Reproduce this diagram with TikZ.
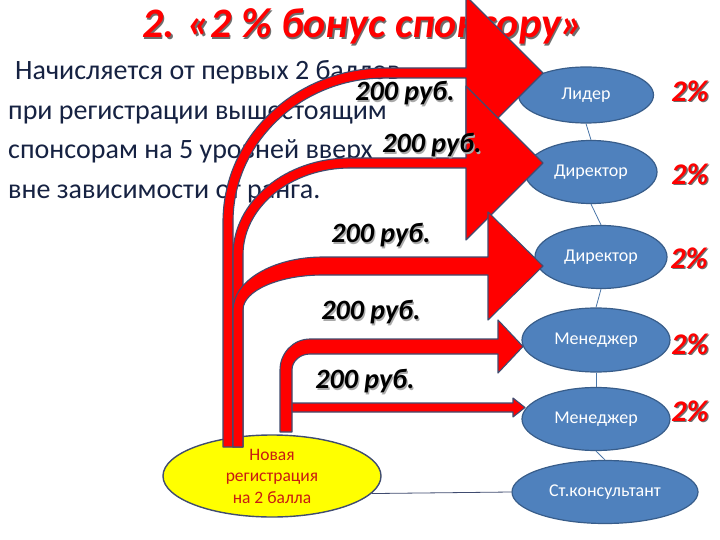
\documentclass[tikz,border=0pt]{standalone}
\usepackage{fontspec}
\setmainfont{Carlito}
\usepackage{tikz}
\usetikzlibrary{calc, shapes, positioning}
\tikzset{
    ellnode/.style = {draw=dblue, fill=rblue, ellipse, line width=1.2pt, inner sep = 0em,
      text=white, font=\fontsize{18}{20}\selectfont},
    yelnode/.style = {draw=slate, fill=ylw, ellipse, line width=1.4pt, inner sep = 0em,
      text=dred, align=center, font=\fontsize{17.5}{21.5}\selectfont},
    textnode/.style  = {draw=none, fill=none, rectangle, inner sep = 0em, anchor=base west,
      text=navy, font=\fontsize{28}{30}\selectfont},
    titlenode/.style = {draw=none, inner sep = 0em, anchor=base,
      font=\bfseries\itshape\fontsize{42}{44}\selectfont},
    sumnode/.style = {draw=none, inner sep = 0em, font=\bfseries\itshape\fontsize{28}{30}\selectfont},
    pctnode/.style = {draw=none, inner sep = 0em, font=\bfseries\itshape\fontsize{30}{32}\selectfont},
    barrow/.style = {fill=red, draw=slate, line width=1.1pt, line join=round},
    link/.style = {draw=lblue, line width=0.8pt}
}
\definecolor{rblue}{RGB}{79, 129, 189}
\definecolor{dblue}{RGB}{56, 93, 138}
\definecolor{lblue}{RGB}{74, 118, 168}
\definecolor{slate}{RGB}{64, 76, 112}
\definecolor{navy}{RGB}{22, 34, 66}
\definecolor{ylw}{RGB}{255, 255, 0}
\definecolor{dred}{RGB}{200, 28, 18}
\definecolor{shad}{RGB}{110, 110, 110}
\definecolor{lshad}{RGB}{170, 170, 170}
\newcommand{\shadtext}[3]{\rlap{\color{#2}\hspace{1.3pt}\raisebox{-1.3pt}{#3}}{\color{#1}#3}}

\begin{document}
\begin{tikzpicture}[x=1pt, y=-1pt]
    \useasboundingbox (0,0) rectangle (720,540);
    \fill[white] (0,0) rectangle (720,540);
    \clip (0,0) rectangle (720,540);

    \node [name=title, titlenode] at (363,38) {\shadtext{red}{shad}{2. «2 \% бонус спонсору»}};
    \node [name=rowa, textnode] at (15,80) {Начисляется от первых 2 баллов};
    \node [name=rowb, textnode] at (8,120) {при регистрации вышестоящим};
    \node [name=rowc, textnode] at (8,159) {спонсорам на 5 уровней вверх};
    \node [name=rowd, textnode] at (8,199) {вне зависимости от ранга.};

    \node [name=lider, ellnode, minimum width=135pt, minimum height=56pt] at (586,95) {Лидер};
    \node [name=dira, ellnode, minimum width=132pt, minimum height=63pt] at (591,172) {Директор};
    \node [name=dirb, ellnode, minimum width=132pt, minimum height=63pt] at (601,257) {Директор};
    \node [name=mana, ellnode, minimum width=148pt, minimum height=64pt] at (596,340) {Менеджер};
    \node [name=manb, ellnode, minimum width=148pt, minimum height=63pt] at (596,419) {Менеджер};
    \node [name=cons, ellnode, minimum width=186pt, minimum height=63pt] at (605,492) {Ст.консультант};
    \node [name=newreg, yelnode, minimum width=218pt, minimum height=82pt] at (272,476)
        {Новая\\регистрация\\на 2 балла};

    \draw [link] (lider.south) -- (dira.north);
    \draw [link] (dira.south) -- (dirb.north);
    \draw [link] (dirb.south) -- (mana.north);
    \draw [link] (mana.south) -- (manb.north);
    \draw [link] (manb.south) -- (cons.north);
    \draw [link, draw=slate] (newreg.-10) -- (cons.west);

    \draw [barrow] (223,447) -- (223,222) arc[start angle=180, end angle=90, x radius=162pt, y radius=154pt]
        -- (466,68) -- (466,-4) -- (543,73) -- (466,150) -- (466,78) -- (385,78)
        arc[start angle=90, end angle=180, x radius=152pt, y radius=144pt] -- (233,447) -- cycle;
    \draw [barrow] (233,447) -- (233,255) arc[start angle=180, end angle=90, x radius=117pt, y radius=97pt]
        -- (466,158) -- (466,86) -- (543,163) -- (466,240) -- (466,168) -- (350,168)
        arc[start angle=90, end angle=180, x radius=107pt, y radius=87pt] -- (243,447) -- cycle;
    \draw [barrow] (233,447) -- (233,310) arc[start angle=180, end angle=90, x radius=90pt, y radius=53pt]
        -- (488,257) -- (488,212) -- (543,266) -- (488,320) -- (488,275) -- (323,275)
        arc[start angle=90, end angle=180, x radius=80pt, y radius=35pt] -- (243,447) -- cycle;
    \draw [barrow] (288,403) -- (513,403) -- (513,398) -- (525,407.5) -- (513,417) -- (513,412)
        -- (288,412) -- cycle;
    \draw [barrow] (280,432) -- (280,370) arc[start angle=180, end angle=90, x radius=30pt, y radius=31pt]
        -- (498,339) -- (498,320) -- (523,346.5) -- (498,373) -- (498,354) -- (310,354)
        arc[start angle=90, end angle=180, x radius=18pt, y radius=16pt] -- (292,432) -- cycle;

    \node [name=suma, sumnode] at (405,94) {\shadtext{black}{lshad}{200 руб.}};
    \node [name=sumb, sumnode] at (432,146) {\shadtext{black}{lshad}{200 руб.}};
    \node [name=sumc, sumnode] at (381,236) {\shadtext{black}{lshad}{200 руб.}};
    \node [name=sumd, sumnode] at (371,313) {\shadtext{black}{lshad}{200 руб.}};
    \node [name=sume, sumnode] at (365,382) {\shadtext{black}{lshad}{200 руб.}};

    \node [name=pcta, pctnode] at (690,92) {\shadtext{red}{shad}{2\%}};
    \node [name=pctb, pctnode] at (690,175) {\shadtext{red}{shad}{2\%}};
    \node [name=pctc, pctnode] at (689,259) {\shadtext{red}{shad}{2\%}};
    \node [name=pctd, pctnode] at (690,345) {\shadtext{red}{shad}{2\%}};
    \node [name=pcte, pctnode] at (690,412) {\shadtext{red}{shad}{2\%}};
\end{tikzpicture}
\end{document}
